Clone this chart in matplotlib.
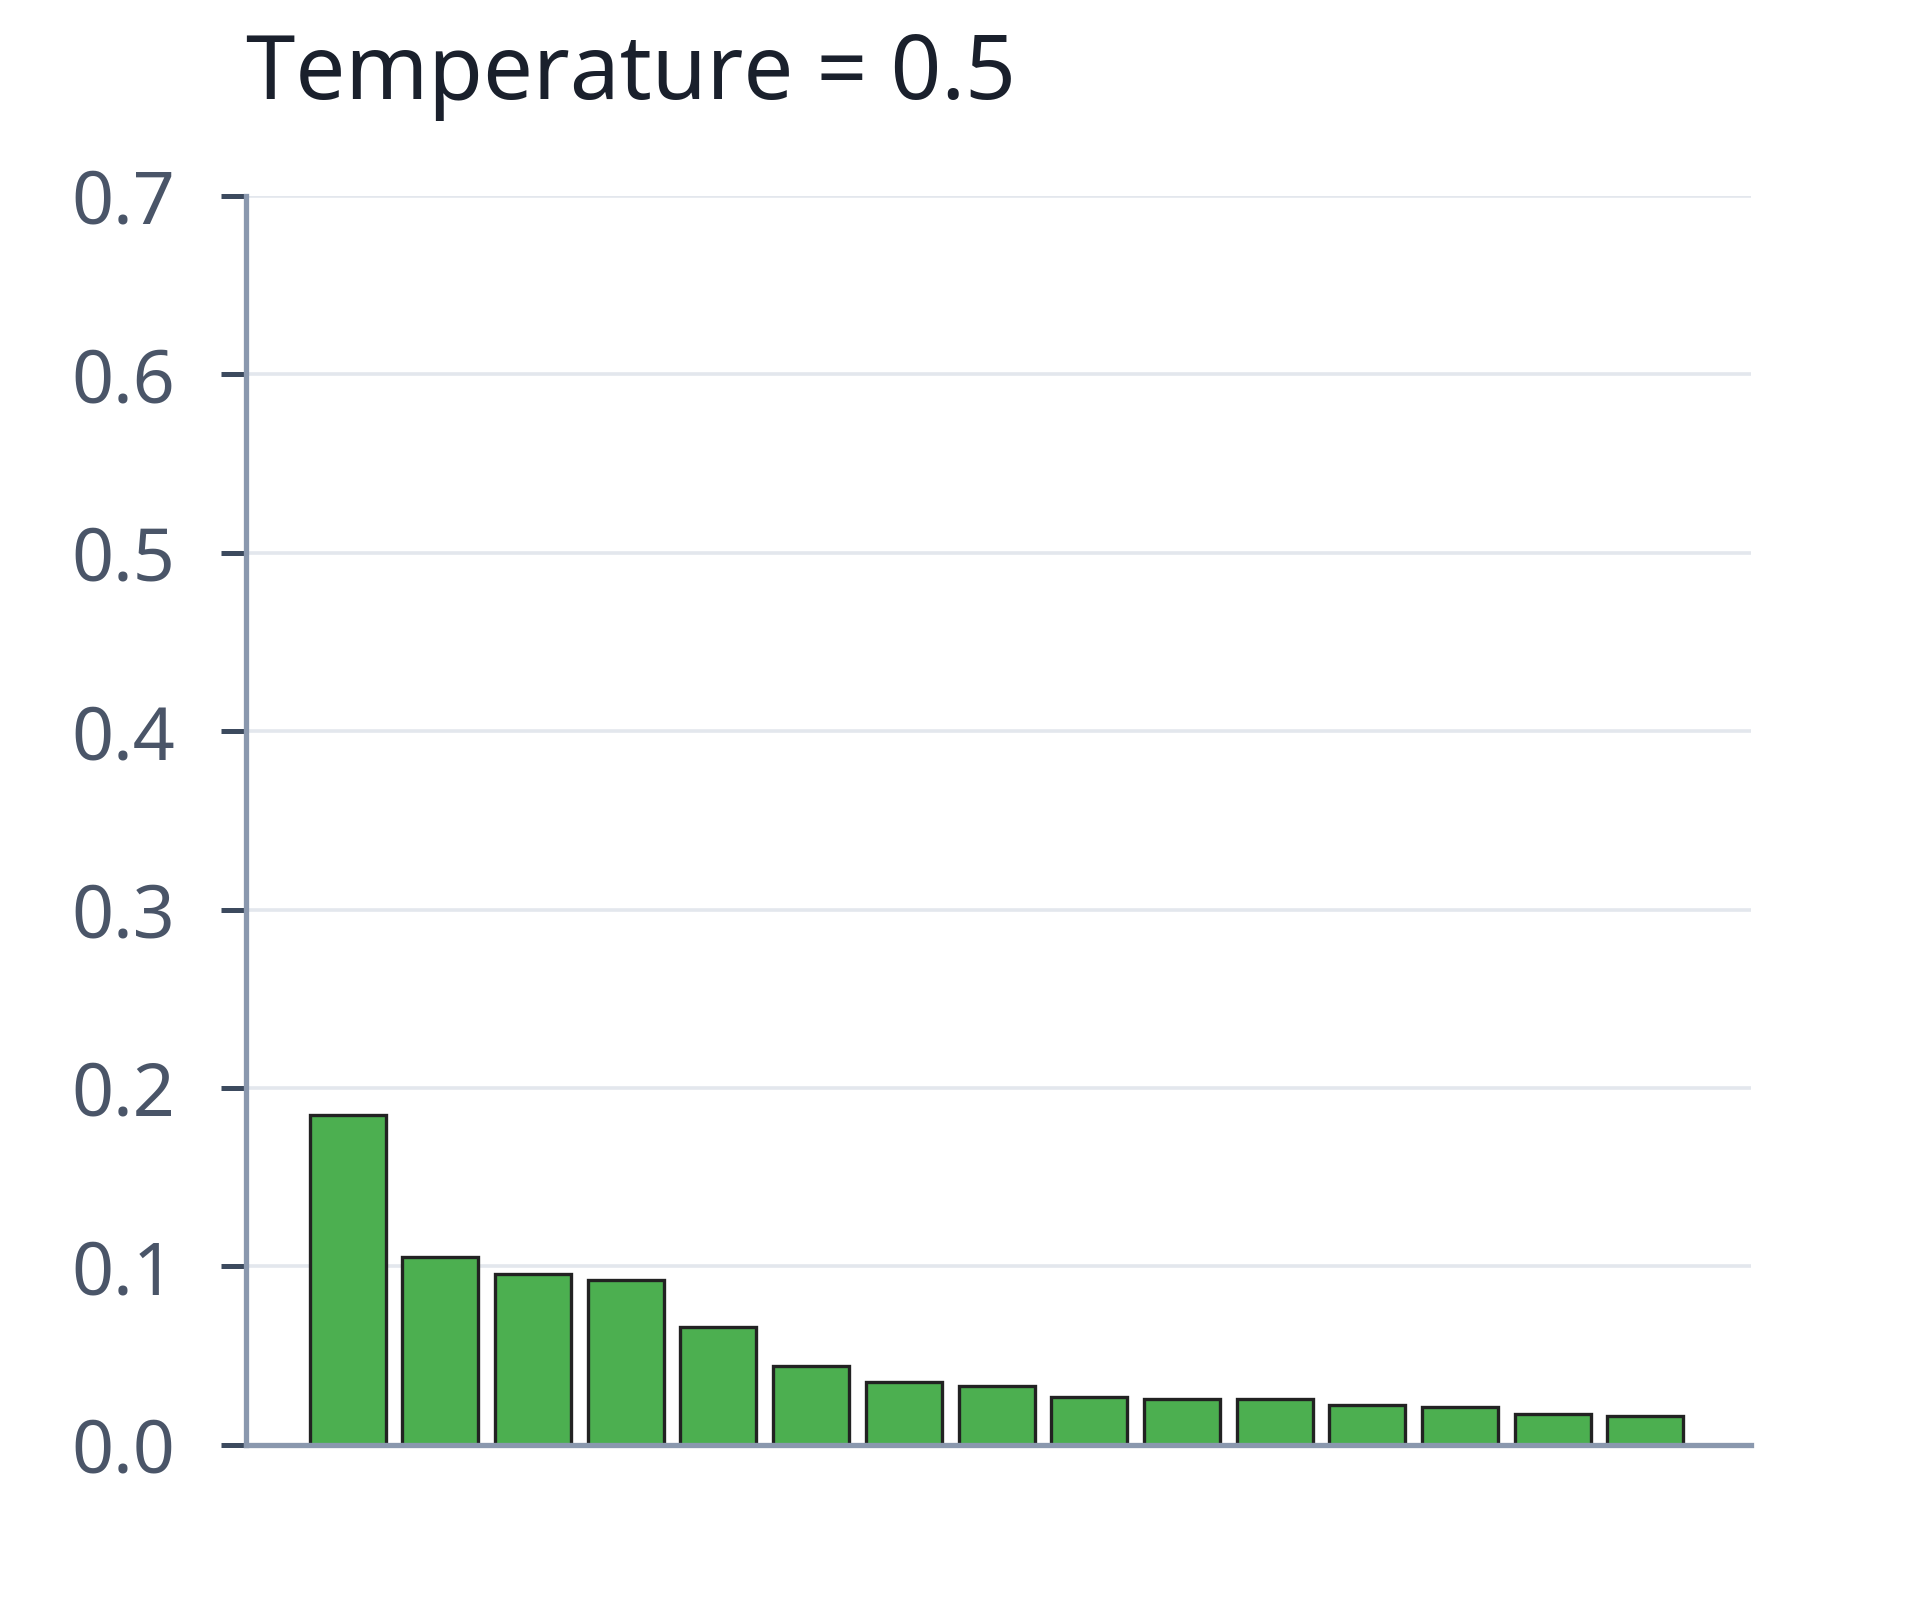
import matplotlib
matplotlib.use("Agg")
import matplotlib.pyplot as plt
import numpy as np

plt.rcParams['font.family'] = ['Noto Sans', 'DejaVu Sans']

# probabilities (sorted, 15 tokens)
probs = [0.185, 0.1055, 0.0957, 0.0922, 0.0658, 0.0440, 0.0353, 0.0331,
         0.0268, 0.0257, 0.0257, 0.0221, 0.0210, 0.0174, 0.0163]
yticks = [0.0, 0.1, 0.2, 0.3, 0.4, 0.5, 0.6, 0.7]
ytick_labels = ['0.0', '0.1', '0.2', '0.3', '0.4', '0.5', '0.6', '0.7']
title = 'Temperature = 0.5'

fig = plt.figure(figsize=(19.2, 16), dpi=100)
ax = fig.add_axes([0.128, 0.097, 0.784, 0.7805])

x = np.arange(len(probs))
ax.bar(x, probs, width=0.82, color='#4caf50', edgecolor='#222222',
       linewidth=2.4, zorder=3)

ax.set_xlim(-1.1, len(probs) - 1 + 1.14)
ax.set_ylim(0, 0.7)
ax.set_yticks(yticks)
ax.set_yticklabels(ytick_labels)
ax.set_xticks([])

ax.grid(axis='y', color='#e3e7ed', linewidth=2.6, zorder=0)
ax.set_axisbelow(True)

for s in ['top', 'right']:
    ax.spines[s].set_visible(False)
for s in ['left', 'bottom']:
    ax.spines[s].set_color('#8a98ae')
    ax.spines[s].set_linewidth(3.8)
    ax.spines[s].set_zorder(4)

ax.tick_params(axis='y', direction='out', length=18, width=3.6,
               color='#3c4a5e', labelsize=53, labelcolor='#4a5568', pad=33)

fig.text(0.128, 1 - 99 / 1600, title, fontsize=64, color='#1a202c',
         ha='left', va='baseline')

fig.savefig('out.png', dpi=100, facecolor='white')
